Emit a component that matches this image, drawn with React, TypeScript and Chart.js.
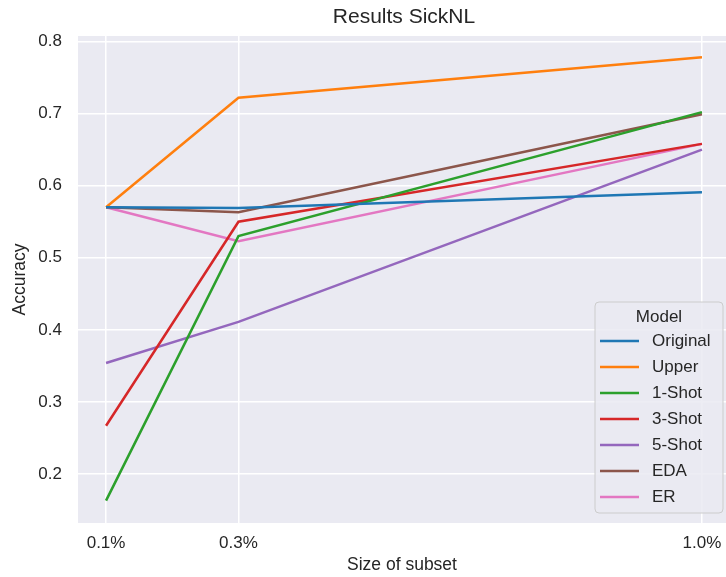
import React, { useEffect, useRef } from "react";
import { Chart, registerables } from "chart.js";

Chart.register(...registerables);

const subsetSizes = [0.1, 0.3, 1.0];
const xTickValues = [0.1, 0.3, 1.0];
const xTickLabels = ["0.1%", "0.3%", "1.0%"];
const yTickValues = [0.2, 0.3, 0.4, 0.5, 0.6, 0.7, 0.8];

const modelNames = ["Original", "Upper", "1-Shot", "3-Shot", "5-Shot", "EDA", "ER"];
const original = [0.570, 0.569, 0.591];
const upper = [0.570, 0.722, 0.778];
const oneShot = [0.163, 0.530, 0.702];
const threeShot = [0.267, 0.550, 0.658];
const fiveShot = [0.354, 0.411, 0.650];
const eda = [0.570, 0.563, 0.699];
const er = [0.570, 0.523, 0.658];
const seriesValues = [original, upper, oneShot, threeShot, fiveShot, eda, er];
const colors = ["#1f77b4", "#ff7f0e", "#2ca02c", "#d62728", "#9467bd", "#8c564b", "#e377c2"];

const FONT = "'Liberation Sans', Arial, sans-serif";
const TEXT = "#262626";

const bgPlugin = {
  id: "bgPlugin",
  beforeDraw(chart: any) {
    const { ctx, chartArea } = chart;
    ctx.save();
    ctx.fillStyle = "#EAEAF2";
    ctx.fillRect(chartArea.left, chartArea.top, chartArea.right - chartArea.left, chartArea.bottom - chartArea.top);
    ctx.restore();
  },
  afterDraw(chart: any) {
    const { ctx, chartArea } = chart;
    ctx.save();
    // title
    ctx.fillStyle = TEXT;
    ctx.font = `21px ${FONT}`;
    ctx.textAlign = "center";
    ctx.textBaseline = "middle";
    ctx.fillText("Results SickNL", (chartArea.left + chartArea.right) / 2 + 2, 17);

    // legend
    const bx = chartArea.right - 131;
    const by = chartArea.bottom - 221;
    const bw = 128;
    const bh = 211;
    ctx.beginPath();
    const r = 4;
    ctx.moveTo(bx + r, by);
    ctx.lineTo(bx + bw - r, by);
    ctx.quadraticCurveTo(bx + bw, by, bx + bw, by + r);
    ctx.lineTo(bx + bw, by + bh - r);
    ctx.quadraticCurveTo(bx + bw, by + bh, bx + bw - r, by + bh);
    ctx.lineTo(bx + r, by + bh);
    ctx.quadraticCurveTo(bx, by + bh, bx, by + bh - r);
    ctx.lineTo(bx, by + r);
    ctx.quadraticCurveTo(bx, by, bx + r, by);
    ctx.closePath();
    ctx.fillStyle = "rgba(234,234,242,0.85)";
    ctx.fill();
    ctx.strokeStyle = "#cccccc";
    ctx.lineWidth = 1;
    ctx.stroke();

    ctx.fillStyle = TEXT;
    ctx.font = `17px ${FONT}`;
    ctx.textAlign = "center";
    ctx.fillText("Model", bx + 64, by + 15);
    ctx.textAlign = "left";
    modelNames.forEach((name, i) => {
      const y = by + 39 + i * 26;
      ctx.strokeStyle = colors[i];
      ctx.lineWidth = 2.5;
      ctx.beginPath();
      ctx.moveTo(bx + 5, y);
      ctx.lineTo(bx + 44, y);
      ctx.stroke();
      ctx.fillStyle = TEXT;
      ctx.fillText(name, bx + 57, y);
    });
    ctx.restore();
  },
};

export default function App() {
  const ref = useRef<HTMLCanvasElement>(null);
  useEffect(() => {
    document.body.style.margin = "0";
    const chart = new Chart(ref.current!, {
      type: "line",
      data: {
        datasets: modelNames.map((name, i) => ({
          label: name,
          data: subsetSizes.map((x, j) => ({ x, y: seriesValues[i][j] })),
          borderColor: colors[i],
          backgroundColor: colors[i],
          borderWidth: 2.5,
          pointRadius: 0,
          tension: 0,
        })),
      },
      options: {
        animation: false,
        responsive: false,
        layout: { padding: { top: 36, left: 0, right: 0, bottom: 0 } },
        plugins: {
          legend: { display: false },
          title: { display: false },
          tooltip: { enabled: false },
        },
        scales: {
          x: {
            type: "linear",
            min: 0.1 - 28 / 661,
            max: 1.0 + 24 / 661,
            border: { display: false },
            grid: { color: "#ffffff", lineWidth: 1.5, drawTicks: false },
            afterBuildTicks: (scale: any) => {
              scale.ticks = xTickValues.map((v) => ({ value: v }));
            },
            afterFit: (scale: any) => {
              scale.height = 54;
              scale.paddingLeft = 0;
              scale.paddingRight = 0;
            },
            ticks: {
              color: TEXT,
              font: { family: FONT, size: 17 },
              padding: 10,
              maxRotation: 0,
              autoSkip: false,
              callback: (v: any) => {
                const idx = xTickValues.findIndex((t) => Math.abs(t - v) < 1e-9);
                return idx >= 0 ? xTickLabels[idx] : "";
              },
            },
            title: {
              display: true,
              text: "Size of subset",
              color: TEXT,
              font: { family: FONT, size: 17.5 },
              padding: { top: 0, bottom: 1 },
            },
          },
          y: {
            type: "linear",
            min: 0.2 - 49 / 721,
            max: 0.8 + 5.5 / 721,
            border: { display: false },
            grid: { color: "#ffffff", lineWidth: 1.5, drawTicks: false },
            afterBuildTicks: (scale: any) => {
              scale.ticks = yTickValues.map((v) => ({ value: v }));
            },
            afterFit: (scale: any) => {
              scale.width = 78;
              scale.paddingTop = 0;
              scale.paddingBottom = 0;
            },
            ticks: {
              color: TEXT,
              font: { family: FONT, size: 17 },
              padding: 16,
              autoSkip: false,
              callback: (v: any) => Number(v).toFixed(1),
            },
            title: {
              display: true,
              text: "Accuracy",
              color: TEXT,
              font: { family: FONT, size: 17.5 },
              padding: { top: 10, bottom: 0 },
            },
          },
        },
      },
      plugins: [bgPlugin],
    });
    return () => chart.destroy();
  }, []);
  return (
    <div style={{ width: 726, height: 577 }}>
      <canvas ref={ref} width={726} height={577} style={{ width: 726, height: 577 }} />
    </div>
  );
}
